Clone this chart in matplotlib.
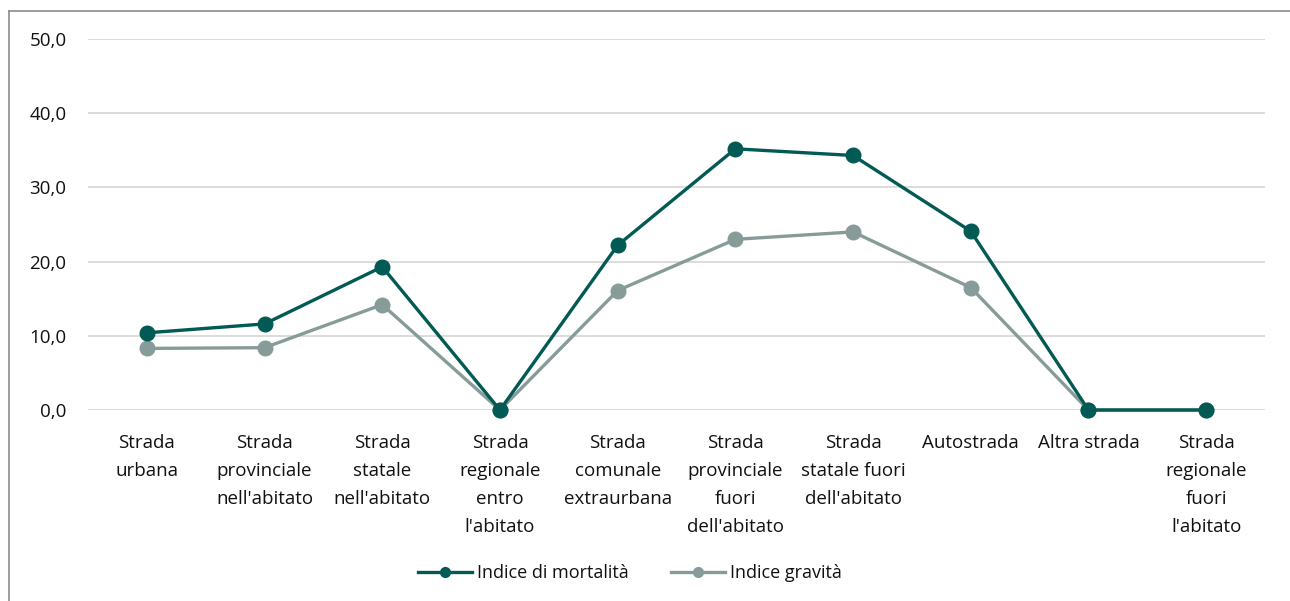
import matplotlib
matplotlib.use("Agg")
import matplotlib.pyplot as plt
from matplotlib.lines import Line2D

plt.rcParams['font.family'] = ['Open Sans', 'DejaVu Sans']

categories = [
    "Strada\nurbana",
    "Strada\nprovinciale\nnell'abitato",
    "Strada\nstatale\nnell'abitato",
    "Strada\nregionale\nentro\nl'abitato",
    "Strada\ncomunale\nextraurbana",
    "Strada\nprovinciale\nfuori\ndell'abitato",
    "Strada\nstatale fuori\ndell'abitato",
    "Autostrada",
    "Altra strada",
    "Strada\nregionale\nfuori\nl'abitato",
]
mortalita = [10.4, 11.6, 19.3, 0.0, 22.2, 35.2, 34.3, 24.1, 0.0, 0.0]
gravita = [8.3, 8.4, 14.2, 0.0, 16.1, 23.0, 24.0, 16.5, 0.0, 0.0]
y_ticks = [0, 10, 20, 30, 40, 50]
y_tick_labels = ["0,0", "10,0", "20,0", "30,0", "40,0", "50,0"]
series_names = ["Indice di mortalità", "Indice gravità"]

W, H = 1290, 601
fig = plt.figure(figsize=(W / 100, H / 100), dpi=100)

left, right, top, bottom = 88, 1265, 39, 410
ax = fig.add_axes([left / W, 1 - bottom / H, (right - left) / W, (bottom - top) / H])

c_mort = "#015A53"
c_grav = "#879C99"
txt = "#111111"

x = list(range(len(categories)))
ax.plot(x, mortalita, color=c_mort, lw=2.4, marker="o", ms=10.5,
        clip_on=False, zorder=3)
ax.plot(x, gravita, color=c_grav, lw=2.4, marker="o", ms=10.5,
        clip_on=False, zorder=2)

ax.set_xlim(-0.5, len(categories) - 0.5)
ax.set_ylim(0, 50)
ax.set_yticks(y_ticks)
ax.set_yticklabels(y_tick_labels, fontsize=13.5, color=txt)
ax.set_xticks(x)
ax.set_xticklabels(categories, fontsize=13.5, color=txt, linespacing=1.70, va="top")
ax.tick_params(axis="both", length=0)
ax.tick_params(axis="y", pad=15.5)
ax.tick_params(axis="x", pad=17.5)
ax.grid(axis="y", color="#d9d9d9", lw=1.3)
ax.set_axisbelow(True)
for s in ax.spines.values():
    s.set_visible(False)

handles = [
    Line2D([], [], color=c_mort, lw=2.4, marker="o", ms=7),
    Line2D([], [], color=c_grav, lw=2.4, marker="o", ms=7),
]
fig.legend(handles, series_names, loc="center", bbox_to_anchor=(630 / W, 1 - 573 / H),
           ncol=2, frameon=False, fontsize=13, handlelength=3.0, columnspacing=2.3,
           handletextpad=0.28, labelcolor=txt)

# outer chart border (partially visible)
fig.add_artist(Line2D([9 / W, 9 / W], [0, 1 - 11 / H], color="#8c8c8c", lw=1.2,
                      transform=fig.transFigure))
fig.add_artist(Line2D([9 / W, 1], [1 - 11 / H, 1 - 11 / H], color="#8c8c8c", lw=1.2,
                      transform=fig.transFigure))

fig.savefig("out.png", dpi=100, facecolor="white")
